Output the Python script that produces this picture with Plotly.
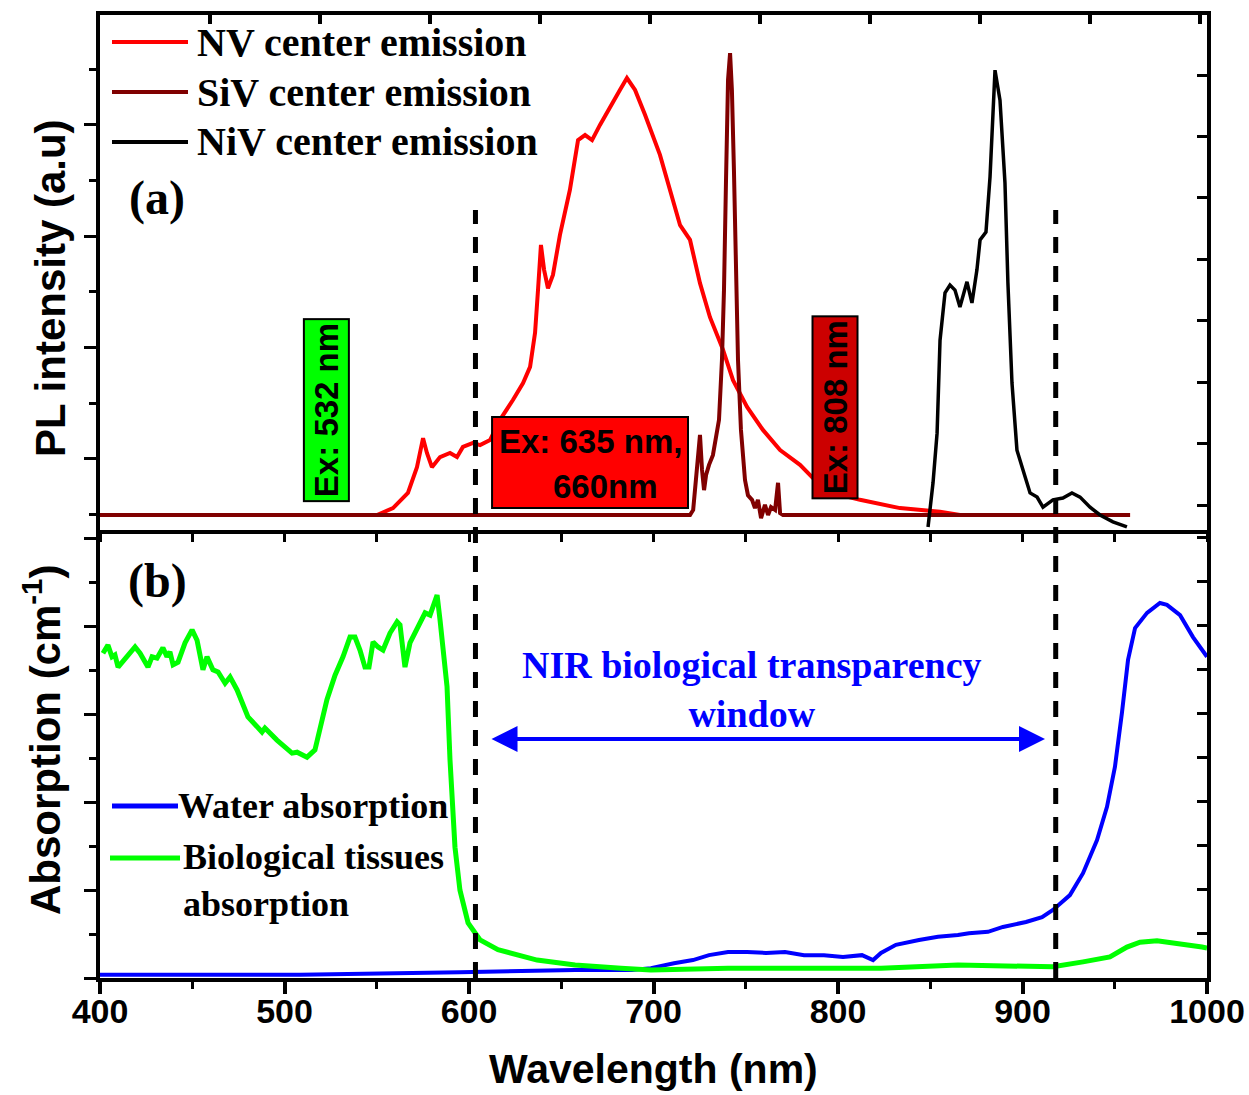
import plotly.graph_objects as go

# ---------------- data ----------------
# (a) PL emission, arbitrary units
nv_wl = [400.0, 550.1, 558.8, 566.9, 571.8, 575.1, 577.2, 579.9, 584.3, 589.7, 593.5, 596.7,
         602.2, 606.0, 611.4, 616.8, 623.8, 629.3, 633.1, 635.8, 637.4, 639.0, 640.7, 642.8,
         645.5, 649.3, 654.7, 659.1, 662.9, 666.7, 671.0, 677.5, 681.8, 685.6, 690.0, 695.4,
         703.5, 714.4, 719.8, 725.2, 730.6, 737.7, 743.1, 750.7, 759.3, 768.6, 779.4, 790.2,
         800.0, 811.9, 833.6, 855.3, 866.1, 958.3]
nv_int = [0.0, 0.0, 0.015, 0.048, 0.104, 0.167, 0.135, 0.104, 0.126, 0.135, 0.126, 0.148,
          0.157, 0.152, 0.163, 0.207, 0.250, 0.287, 0.322, 0.396, 0.489, 0.587, 0.533, 0.493,
          0.522, 0.609, 0.707, 0.815, 0.826, 0.815, 0.848, 0.896, 0.924, 0.950, 0.924, 0.870,
          0.783, 0.630, 0.598, 0.504, 0.430, 0.359, 0.293, 0.235, 0.185, 0.141, 0.109, 0.065,
          0.045, 0.033, 0.015, 0.007, 0.0, 0.0]

siv_wl = [400.0, 719.8, 721.5, 723.6, 725.2, 726.3, 727.4, 728.5, 730.1, 732.2, 733.8, 735.5,
          737.1, 738.2, 739.3, 740.4, 741.5, 742.5, 743.6, 744.7, 745.8, 747.4, 749.6, 751.2,
          753.4, 755.0, 756.6, 758.3, 760.4, 762.1, 763.7, 765.9, 767.5, 768.6, 770.2, 958.3]
siv_int = [0.0, 0.0, 0.011, 0.098, 0.174, 0.098, 0.054, 0.087, 0.109, 0.130, 0.163, 0.207,
           0.337, 0.489, 0.728, 0.946, 1.004, 0.924, 0.750, 0.533, 0.337, 0.185, 0.076, 0.043,
           0.033, 0.015, 0.033, -0.007, 0.022, 0.0, 0.017, 0.011, 0.070, 0.004, 0.0, 0.0]

niv_wl = [848.8, 851.5, 853.7, 855.3, 858.0, 860.7, 863.4, 866.1, 869.9, 872.6, 875.3, 877.0,
          880.2, 882.4, 885.1, 887.8, 890.5, 892.1, 894.3, 897.0, 901.4, 904.1, 907.9, 911.1,
          916.5, 921.9, 926.8, 931.2, 936.6, 942.0, 949.0, 956.6]
niv_int = [-0.026, 0.070, 0.178, 0.380, 0.483, 0.500, 0.489, 0.452, 0.507, 0.461, 0.533, 0.598,
           0.615, 0.735, 0.967, 0.902, 0.722, 0.504, 0.287, 0.141, 0.083, 0.048, 0.039, 0.017,
           0.033, 0.037, 0.048, 0.039, 0.017, 0.0, -0.015, -0.026]

# (b) absorption, arbitrary units
tissue_wl = [401.6, 404.3, 406.5, 408.1, 409.8, 414.6, 419.0, 421.7, 426.0, 428.2, 430.9, 434.1,
             436.3, 437.9, 439.6, 442.3, 446.1, 449.9, 452.6, 455.8, 458.0, 461.2, 464.0, 467.8,
             470.5, 474.3, 480.2, 487.8, 489.4, 495.9, 504.1, 506.8, 512.2, 516.5, 519.2, 523.0,
             527.4, 531.7, 535.5, 538.2, 540.9, 543.6, 545.8, 548.0, 550.7, 553.4, 557.2, 561.0,
             562.6, 565.3, 568.0, 572.4, 576.2, 578.9, 582.7, 584.3, 587.0, 588.1, 589.7, 592.4,
             595.1, 599.5, 606.0, 615.7, 636.9, 657.5, 682.4, 698.6, 740.4, 781.6, 823.3, 865.0,
             916.5, 932.8, 947.4, 956.6, 963.7, 972.9, 983.7, 997.3, 1000.0]
tissue_abs = [0.725, 0.743, 0.717, 0.721, 0.694, 0.717, 0.739, 0.725, 0.694, 0.717, 0.714, 0.737,
              0.717, 0.728, 0.699, 0.705, 0.748, 0.777, 0.754, 0.688, 0.717, 0.688, 0.683, 0.658,
              0.672, 0.643, 0.583, 0.549, 0.558, 0.531, 0.502, 0.504, 0.493, 0.509, 0.560, 0.621,
              0.676, 0.717, 0.761, 0.761, 0.732, 0.694, 0.694, 0.750, 0.739, 0.732, 0.770, 0.795,
              0.788, 0.694, 0.748, 0.783, 0.815, 0.810, 0.855, 0.799, 0.699, 0.650, 0.487, 0.292,
              0.196, 0.123, 0.085, 0.063, 0.040, 0.029, 0.022, 0.018, 0.022, 0.022, 0.022, 0.029,
              0.025, 0.036, 0.047, 0.069, 0.080, 0.083, 0.078, 0.069, 0.067]

water_wl = [400.0, 508.4, 595.1, 657.5, 688.3, 698.6, 711.1, 721.4, 730.1, 740.4, 750.7, 761.0,
            771.3, 781.6, 792.4, 802.7, 813.0, 819.0, 823.3, 831.4, 843.9, 854.2, 865.0, 871.0,
            881.3, 889.4, 901.9, 910.6, 916.5, 925.7, 932.8, 940.4, 945.8, 950.1, 953.9, 957.2,
            961.0, 967.5, 974.5, 978.3, 985.4, 992.4, 1000.0]
water_abs = [0.007, 0.007, 0.013, 0.018, 0.018, 0.022, 0.033, 0.040, 0.051, 0.058, 0.058, 0.056,
             0.058, 0.051, 0.051, 0.047, 0.051, 0.040, 0.056, 0.074, 0.085, 0.092, 0.096, 0.100,
             0.103, 0.114, 0.125, 0.136, 0.152, 0.185, 0.234, 0.308, 0.382, 0.471, 0.592, 0.710,
             0.781, 0.815, 0.837, 0.833, 0.810, 0.761, 0.717]

x_ticks = [400, 500, 600, 700, 800, 900, 1000]
window_edges = [603.5, 918.0]

# ---------------- styling ----------------
SANS = "Liberation Sans, Arial, sans-serif"
SERIF = "Liberation Serif, Times New Roman, serif"
RED, DARKRED, BLACK, BLUE, GREEN = "#ff0000", "#800000", "#000000", "#0000ff", "#00ff00"

W, H = 1249, 1095
ML, MR, MT, MB = 100, 42, 15, 117
PW, PH = W - ML - MR, H - MT - MB
split = (978 - 530) / PH


def px(x):
    return (x - ML) / PW


def py(y):
    return (MT + PH - y) / PH


fig = go.Figure()

# top panel (a)
fig.add_trace(go.Scatter(x=nv_wl, y=nv_int, mode="lines", line=dict(color=RED, width=4),
                         xaxis="x2", yaxis="y2", name="NV center emission", showlegend=False))
fig.add_trace(go.Scatter(x=siv_wl, y=siv_int, mode="lines", line=dict(color=DARKRED, width=4),
                         xaxis="x2", yaxis="y2", name="SiV center emission", showlegend=False))
fig.add_trace(go.Scatter(x=niv_wl, y=niv_int, mode="lines", line=dict(color=BLACK, width=3.5),
                         xaxis="x2", yaxis="y2", name="NiV center emission", showlegend=False))
# bottom panel (b)
fig.add_trace(go.Scatter(x=water_wl, y=water_abs, mode="lines", line=dict(color=BLUE, width=4),
                         xaxis="x", yaxis="y", name="Water absorption", showlegend=False))
fig.add_trace(go.Scatter(x=tissue_wl, y=tissue_abs, mode="lines", line=dict(color=GREEN, width=5),
                         xaxis="x", yaxis="y", name="Biological tissues absorption", showlegend=False))
# empty traces so overlay axes are drawn
fig.add_trace(go.Scatter(x=[None], y=[None], xaxis="x3", yaxis="y2", showlegend=False, hoverinfo="skip"))
fig.add_trace(go.Scatter(x=[None], y=[None], xaxis="x", yaxis="y3", showlegend=False, hoverinfo="skip"))
fig.add_trace(go.Scatter(x=[None], y=[None], xaxis="x2", yaxis="y4", showlegend=False, hoverinfo="skip"))

axline = dict(showline=True, linewidth=4, linecolor="black", showgrid=False, zeroline=False,
              automargin=False)

fig.update_layout(
    width=W, height=H,
    margin=dict(l=ML, r=MR, t=MT, b=MB),
    paper_bgcolor="white", plot_bgcolor="white",
    showlegend=False,
    xaxis=dict(domain=[0, 1], anchor="y", range=[400, 1000], tickvals=x_ticks,
               ticks="outside", ticklen=12, tickwidth=4, tickcolor="black", ticklabelstandoff=-12,
               minor=dict(ticks="outside", ticklen=7, tickwidth=3, dtick=50, tick0=400, tickcolor="black"),
               tickfont=dict(family=SANS, size=34, color="black", weight="bold"),
               **axline),
    xaxis2=dict(domain=[0, 1], anchor="y2", range=[400, 1000], showticklabels=False,
                ticks="outside", ticklen=8, tickwidth=3, tickcolor="black", dtick=50, tick0=400,
                **axline),
    xaxis3=dict(overlaying="x2", anchor="y2", side="top", range=[400, 1000], showticklabels=False,
                ticks="inside", ticklen=9, tickwidth=4, tickcolor="black", dtick=59.6, tick0=400,
                **axline),
    yaxis=dict(domain=[0, split], anchor="x", range=[0, 1], showticklabels=False,
               ticks="outside", ticklen=12, tickwidth=3, tickcolor="black", tick0=0, dtick=0.1964,
               minor=dict(ticks="outside", ticklen=7, tickwidth=3, dtick=0.0982, tick0=0, tickcolor="black"),
               **axline),
    yaxis3=dict(overlaying="y", anchor="x", side="right", range=[0, 1], showticklabels=False,
                ticks="inside", ticklen=10, tickwidth=3, tickcolor="black", tick0=0.002, dtick=0.0982,
                **axline),
    yaxis2=dict(domain=[split, 1], anchor="x2", range=[-0.0326, 1.087], showticklabels=False,
                ticks="outside", ticklen=12, tickwidth=3, tickcolor="black", tick0=0.122, dtick=0.242,
                minor=dict(ticks="outside", ticklen=7, tickwidth=3, dtick=0.121, tick0=0.001, tickcolor="black"),
                **axline),
    yaxis4=dict(overlaying="y2", anchor="x2", side="right", range=[-0.0326, 1.087], showticklabels=False,
                ticks="inside", ticklen=10, tickwidth=3, tickcolor="black", tick0=0.0217, dtick=0.1335,
                **axline),
)

shapes = []
# dashed window edges across both panels
for wl in window_edges:
    shapes.append(dict(type="line", xref="x", yref="paper", x0=wl, x1=wl, y0=0, y1=py(210),
                       line=dict(color="black", width=5, dash="16px,13px"), layer="above"))
# red excitation box
shapes.append(dict(type="rect", xref="x2", yref="y2", x0=612.5, x1=718.7, y0=0.015, y1=0.213,
                   fillcolor=RED, line=dict(color="black", width=2), layer="above"))
# legend lines (a)
for yy, col in [(42, RED), (92, DARKRED), (142, BLACK)]:
    shapes.append(dict(type="line", xref="paper", yref="paper", x0=px(112), x1=px(188), y0=py(yy), y1=py(yy),
                       line=dict(color=col, width=4)))
# legend lines (b)
shapes.append(dict(type="line", xref="paper", yref="paper", x0=px(112), x1=px(178), y0=py(806), y1=py(806),
                   line=dict(color=BLUE, width=5)))
shapes.append(dict(type="line", xref="paper", yref="paper", x0=px(110), x1=px(180), y0=py(858), y1=py(858),
                   line=dict(color=GREEN, width=5)))
fig.update_layout(shapes=shapes)

serif_big = dict(family=SERIF, size=40, color="black", weight="bold")
serif_leg = dict(family=SERIF, size=36, color="black", weight="bold")
sans_box = dict(family=SANS, size=33, color="black", weight="bold")
sans_title = dict(family=SANS, size=42, color="black", weight="bold")

ann = []
# axis titles
ann.append(dict(xref="paper", yref="paper", x=px(50), y=py(288), xanchor="center", yanchor="middle",
                text="PL intensity (a.u)", textangle=-90, showarrow=False, font=sans_title))
ann.append(dict(xref="paper", yref="paper", x=px(42), y=py(740), xanchor="center", yanchor="middle",
                text="Absorption (cm<sup>-1</sup>)", textangle=-90, showarrow=False, font=sans_title))
ann.append(dict(xref="paper", yref="paper", x=px(653), y=py(1069), xanchor="center", yanchor="middle",
                text="Wavelength (nm)", showarrow=False, borderpad=0,
                font=dict(family=SANS, size=41, color="black", weight="bold")))
# legends
for yy, txt in [(42, "NV center emission"), (92, "SiV center emission"), (142, "NiV center emission")]:
    ann.append(dict(xref="paper", yref="paper", x=px(195), y=py(yy), xanchor="left", yanchor="middle",
                    text=txt, showarrow=False, font=serif_big))
ann.append(dict(xref="paper", yref="paper", x=px(176), y=py(806), xanchor="left", yanchor="middle",
                text="Water absorption", showarrow=False, font=serif_leg))
ann.append(dict(xref="paper", yref="paper", x=px(181), y=py(880), xanchor="left", yanchor="middle",
                text="Biological tissues<br>absorption", align="left", showarrow=False, font=serif_leg))
ann.append(dict(xref="paper", yref="paper", x=px(157), y=py(198), xanchor="center", yanchor="middle",
                text="(a)", showarrow=False, font=dict(family=SERIF, size=48, color="black", weight="bold")))
ann.append(dict(xref="paper", yref="paper", x=px(157), y=py(581), xanchor="center", yanchor="middle",
                text="(b)", showarrow=False, font=dict(family=SERIF, size=48, color="black", weight="bold")))
# excitation labels
ann.append(dict(xref="x2", yref="y2", x=522.5, y=0.228, text="Ex: 532 nm", textangle=-90, showarrow=False,
                bgcolor=GREEN, bordercolor="black", borderwidth=2, borderpad=3, font=sans_box))
ann.append(dict(xref="x2", yref="y2", x=798.6, y=0.235, text="Ex: 808 nm", textangle=-90, showarrow=False,
                bgcolor="#cc0000", bordercolor="black", borderwidth=2, borderpad=3, font=sans_box))
ann.append(dict(xref="x2", yref="y2", x=666.1, y=0.159, text="Ex: 635 nm,", showarrow=False, font=sans_box))
ann.append(dict(xref="x2", yref="y2", x=674.2, y=0.063, text="660nm", showarrow=False, font=sans_box))
# NIR window
ann.append(dict(xref="x", yref="y", x=753.4, y=0.645, text="NIR biological transparency<br>window",
                showarrow=False, font=dict(family=SERIF, size=38, color=BLUE, weight="bold")))
ann.append(dict(xref="x", yref="y", x=912.2, y=0.5335, axref="x", ayref="y", ax=611.4, ay=0.5335,
                text="", showarrow=True, arrowhead=2, startarrowhead=2, arrowside="end+start",
                arrowsize=1.3, startarrowsize=1.3, arrowwidth=4, arrowcolor=BLUE))
fig.update_layout(annotations=ann)

fig.write_html("out.html")
